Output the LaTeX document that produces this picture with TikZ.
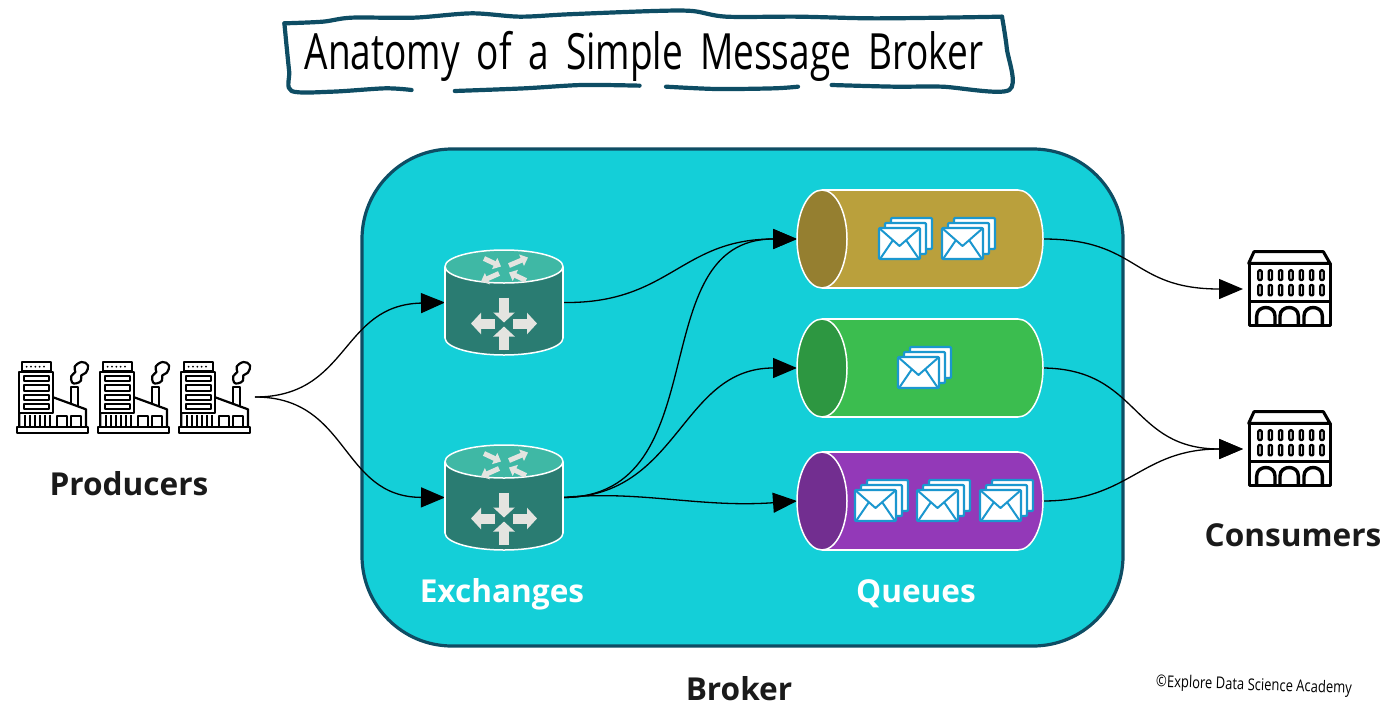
\documentclass[tikz,border=0pt]{standalone}
\usepackage{fontspec}
\setmainfont{Open Sans}
\newfontfamily\handfont{Open Sans}
\usetikzlibrary{arrows.meta}
\definecolor{brokerfill}{HTML}{14CFD8}
\definecolor{brokerline}{HTML}{0E4D64}
\definecolor{extop}{HTML}{3FB8A5}
\definecolor{exbody}{HTML}{2A7C72}
\definecolor{exarrow}{HTML}{E4E4E0}
\definecolor{envblue}{HTML}{1B97CF}
\definecolor{inkdark}{HTML}{1A1A1A}
\definecolor{goldA}{HTML}{BAA03C}\definecolor{goldB}{HTML}{957F30}
\definecolor{greenA}{HTML}{3BBD4F}\definecolor{greenB}{HTML}{2D9741}
\definecolor{purpA}{HTML}{9339B8}\definecolor{purpB}{HTML}{722E90}
\tikzset{
  anch/.style={inner sep=0pt,outer sep=0pt},
  label text/.style={font=\fontsize{31.6}{32}\selectfont\bfseries,inner sep=0pt,text=inkdark},
  link/.style={line width=1.3pt,-{Triangle[length=24pt,width=20pt]}},
  exarr/.style={exarrow,line width=10pt,-{Triangle[length=10pt,width=21pt]}},
  exarrs/.style={exarrow,line width=5pt,-{Triangle[length=7pt,width=12pt]}},
  pics/exchange/.style={code={
    \fill[exbody,draw=white,line width=1.5pt] (0,35.5) ellipse [x radius=59,y radius=17];
    \fill[exbody] (-59,-36) rectangle (59,35.5);
    \draw[white,line width=1.5pt] (-59,-36) -- (-59,35.5) (59,-36) -- (59,35.5);
    \fill[extop,draw=white,line width=1.5pt] (0,-36) ellipse [x radius=59,y radius=16.5];
    \draw[exarr] (0,-5) -- (0,20);
    \draw[exarr] (0,47.5) -- (0,24);
    \draw[exarr] (-9,21) -- (-33,21);
    \draw[exarr] (9,21) -- (33,21);
    \draw[exarrs] (-20,-44) -- (-3,-36);
    \draw[exarrs] (5,-37) -- (24,-45);
    \draw[exarrs] (-5,-29) -- (-23,-21);
    \draw[exarrs] (22,-22) -- (5,-30);
  }},
  pics/envelope/.style={code={
    \foreach \o in {2,1,0}{
      \filldraw[fill=white,draw=envblue,line width=2.2pt,line join=round,rounded corners=1pt]
        (6*\o,-5*\o) rectangle (6*\o+41,-5*\o+31);
    }
    \draw[envblue,line width=2pt,line join=round] (0,0) -- (20.5,18) -- (41,0);
    \draw[envblue,line width=2pt] (1,31) -- (14,12) (40,31) -- (27,12);
  }},
  pics/queue/.style 2 args={code={
    \fill[#1,draw=white,line width=1.5pt] (98,0) ellipse [x radius=25,y radius=49];
    \fill[#1] (-98,-49) rectangle (98,49);
    \draw[white,line width=1.5pt] (-98,-49) -- (98,-49) (-98,49) -- (98,49);
    \fill[#2,draw=white,line width=1.5pt] (-98,0) ellipse [x radius=25,y radius=49];
  }},
  pics/factory/.style={code={
    \begin{scope}[scale=1/3,line width=2.2pt,line join=round]
      \draw (65,67) rectangle (152,92);
      \foreach \x in {80,93,106,119,132}{\fill (\x,80) circle (3);}
      \draw (58,95) rectangle (160,218);
      \foreach \y in {108,136,164,192}{\draw[line width=1.7pt] (72,\y) rectangle (147,\y+16);}
      \draw (58,218) -- (58,262) (160,172) -- (258,208) -- (258,262);
      \foreach \x in {75,90,105,120,135,150}{\draw[line width=1.8pt] (\x,225) -- (\x,262);}
      \draw (212,192) -- (212,142) -- (235,142) -- (235,197);
      \draw (170,262) -- (170,228) -- (200,228) -- (200,262);
      \draw (213,262) -- (213,228) -- (243,228) -- (243,262);
      \draw (50,262) rectangle (265,278);
      \draw plot[smooth cycle,tension=.7] coordinates {(216,127) (214,108) (226,96) (224,80) (245,66) (264,76) (258,98) (244,106) (243,122) (228,130)};
    \end{scope}
  }},
  pics/building/.style={code={
    \begin{scope}[scale=1/3,line join=round]
      \draw[line width=3pt] (72,35) -- (280,35) -- (300,70) -- (56,70) -- cycle;
      \draw[line width=3pt] (58,70) rectangle (300,255);
      \foreach \i in {0,...,6}{
        \draw[line width=2.3pt,rounded corners=1pt] (85+31*\i,91) rectangle (95+31*\i,120);
        \draw[line width=2.3pt,rounded corners=1pt] (85+31*\i,135) rectangle (95+31*\i,166);
      }
      \draw[line width=3pt] (58,185) -- (300,185);
      \foreach \x in {80,150,222}{
        \draw[line width=3.4pt] (\x,255) -- (\x,228) .. controls (\x,194) and (\x+55,194) .. (\x+55,228) -- (\x+55,255);
      }
    \end{scope}
  }}
}
\begin{document}
\begin{tikzpicture}[x=1pt,y=-1pt]
\useasboundingbox (0,0) rectangle (1397,715);
% title frame
\begin{scope}[shift={(270,5)},xscale=.48,yscale=1/3,brokerline,line width=4.2pt,line cap=round,line join=round]
  \draw plot[smooth,tension=.5] coordinates {(30,55) (110,50) (170,38) (300,38) (420,25) (520,35) (620,28) (800,18) (880,18) (950,35) (1100,35) (1250,40) (1400,38) (1525,35)};
  \draw plot[smooth,tension=.5] coordinates {(1525,35) (1535,130) (1540,255) (1400,245) (1300,245) (1170,240)};
  \draw plot[smooth,tension=.5] coordinates {(1100,245) (1050,250) (930,252) (825,245)};
  \draw plot[smooth,tension=.5] coordinates {(770,242) (650,240) (530,250) (385,258)};
  \draw plot[smooth,tension=.5] coordinates {(295,255) (240,250) (130,260) (45,258) (40,200) (35,130) (30,55)};
\end{scope}
\node[anch,font=\handfont\fontsize{37}{37}\selectfont,text=black] (title) at (644,56) {\scalebox{1}[1.35]{\spaceskip=17pt Anatomy of a Simple Message Broker}};
% broker
\node[anch,draw=brokerline,line width=3.2pt,fill=brokerfill,rounded corners=90pt,minimum width=761pt,minimum height=497pt] (broker) at (742.5,397.5) {};
% placeholders
\node[anch,minimum width=238pt,minimum height=72pt] (prod) at (136,397) {};
\node[anch,minimum width=118pt,minimum height=105pt] (ex1) at (504,302.5) {};
\node[anch,minimum width=118pt,minimum height=105pt] (ex2) at (504,497.5) {};
\node[anch,minimum width=246pt,minimum height=98pt] (q1) at (920,239) {};
\node[anch,minimum width=246pt,minimum height=98pt] (q2) at (920,368) {};
\node[anch,minimum width=246pt,minimum height=98pt] (q3) at (920,501) {};
\node[anch,minimum width=86pt,minimum height=75pt] (c1) at (1286,289) {};
\node[anch,minimum width=86pt,minimum height=75pt] (c2) at (1286,449) {};
% connectors
\draw[link] (prod.east) .. controls (350,397) and (340,305) .. (ex1.west);
\draw[link] (prod.east) .. controls (350,397) and (340,497) .. (ex2.west);
\draw[link] (ex1.east) .. controls (670,304) and (680,239) .. (q1.west);
\draw[link] (ex2.east) .. controls (720,497) and (640,239) .. (q1.west);
\draw[link] (ex2.east) .. controls (680,497) and (680,368) .. (q2.west);
\draw[link] (ex2.east) .. controls (640,490) and (700,508) .. (q3.west);
\draw[link] (q1.east) .. controls (1140,239) and (1130,289) .. (c1.west);
\draw[link] (q2.east) .. controls (1140,369) and (1130,449) .. (c2.west);
\draw[link] (q3.east) .. controls (1130,501) and (1140,449) .. (c2.west);
% icons
\path (0,340) pic {factory} (81,340) pic {factory} (162,340) pic {factory};
\path (ex1.center) pic {exchange} (ex2.center) pic {exchange};
\path (q1.center) pic {queue={goldA}{goldB}};
\path (q2.center) pic {queue={greenA}{greenB}};
\path (q3.center) pic {queue={purpA}{purpB}};
\path (879,228) pic {envelope} (942,228) pic {envelope} (898,357) pic {envelope}
      (855,490) pic {envelope} (917,490) pic {envelope} (980,490) pic {envelope};
\path (1230,240) pic {building} (1230,400) pic {building};
% labels
\node[label text] (lprod) at (129,484) {Producers};
\node[label text,text=white] (lex) at (502,594) {Exchanges};
\node[label text,text=white] (lq) at (916,594) {Queues};
\node[label text] (lbroker) at (739,689) {Broker};
\node[label text] (lcons) at (1293,535) {Consumers};
\node[anch,font=\handfont\fontsize{13}{13}\selectfont,rotate=-2] (credit) at (1254,686) {\scalebox{1}[1.25]{©Explore Data Science Academy}};
\end{tikzpicture}
\end{document}
